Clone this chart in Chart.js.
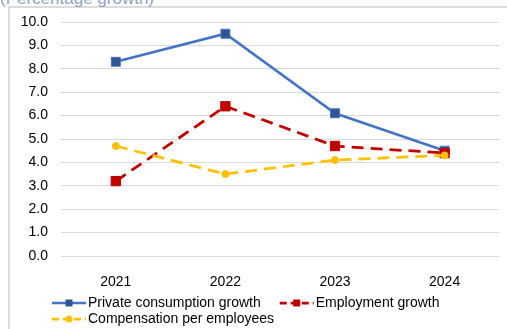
<!DOCTYPE html>
<html>
<head>
<meta charset="utf-8">
<script src="https://cdn.jsdelivr.net/npm/chart.js@4/dist/chart.umd.min.js"></script>
<style>
  html, body { margin: 0; padding: 0; background: #fff; overflow: hidden; }
  #wrap { position: relative; width: 507px; height: 329px; }
  #frame { position: absolute; left: 8px; top: 6px; width: 600px; height: 400px;
           border-left: 2px solid #dcdcdc; border-top: 2px solid #dcdcdc; }
  #subtitle { position: absolute; left: 0; top: -10px; font: 17px/17px "Liberation Sans", Arial, sans-serif;
              color: #8fa3bf; white-space: nowrap; }
  #growthChart { position: absolute; left: 0; top: 0; }
</style>
</head>
<body>
<div id="wrap">
  <div id="frame"></div>
  <div id="subtitle">(Percentage growth)</div>
  <canvas id="growthChart" width="507" height="329"></canvas>
</div>
<script>
const years = ['2021', '2022', '2023', '2024'];
const privateConsumption = [8.3, 9.5, 6.1, 4.5];
const employment = [3.2, 6.4, 4.7, 4.4];
const compensation = [4.7, 3.5, 4.1, 4.3];
const yTicks = [0, 1, 2, 3, 4, 5, 6, 7, 8, 9, 10];

const FONT = '"Liberation Sans", Arial, sans-serif';

// legend drawn Excel-style: line sample with marker, left aligned, wrapping rows
const lineLegend = {
    id: 'lineLegend',
    afterDraw(chart) {
        const ctx = chart.ctx;
        const startX = 52, maxRight = 470, rowH = 16;
        let x = startX, y = 303;
        ctx.save();
        ctx.font = '14px ' + FONT;
        ctx.textBaseline = 'middle';
        chart.data.datasets.forEach(ds => {
            const w = ctx.measureText(ds.label).width;
            if (x > startX && x + 36 + w > maxRight) { x = startX; y += rowH; }
            ctx.strokeStyle = ds.borderColor;
            ctx.lineWidth = ds.borderWidth;
            ctx.setLineDash(ds.borderDash ? [7, 4] : []);
            ctx.beginPath();
            ctx.moveTo(x, y);
            ctx.lineTo(x + 34, y);
            ctx.stroke();
            ctx.setLineDash([]);
            ctx.fillStyle = ds.pointBackgroundColor;
            if (ds.pointStyle === 'rect') {
                ctx.fillRect(x + 13.5, y - 3.5, 7, 7);
            } else {
                ctx.beginPath();
                ctx.arc(x + 17, y, 3.5, 0, Math.PI * 2);
                ctx.fill();
            }
            ctx.fillStyle = '#000';
            ctx.fillText(ds.label, x + 36, y);
            x += 36 + w + 19;
        });
        ctx.restore();
    }
};

new Chart(document.getElementById('growthChart'), {
    type: 'line',
    data: {
        labels: years,
        datasets: [{
            label: 'Private consumption growth',
            data: privateConsumption,
            borderColor: '#4472c4',
            borderWidth: 2.5,
            pointStyle: 'rect',
            pointRadius: 6.3,
            pointBackgroundColor: '#2f5597',
            pointBorderColor: '#4472c4',
            pointBorderWidth: 1,
            order: 3
        }, {
            label: 'Employment growth',
            data: employment,
            borderColor: '#c00000',
            borderWidth: 2.75,
            borderDash: [12, 7],
            pointStyle: 'rect',
            pointRadius: 6.6,
            pointBackgroundColor: '#c00000',
            pointBorderColor: '#c00000',
            pointBorderWidth: 1,
            order: 2
        }, {
            label: 'Compensation per employees',
            data: compensation,
            borderColor: '#ffc000',
            borderWidth: 2.75,
            borderDash: [12, 7],
            pointStyle: 'circle',
            pointRadius: 3.5,
            pointBackgroundColor: '#ffc000',
            pointBorderColor: '#ffc000',
            pointBorderWidth: 1,
            order: 1
        }]
    },
    options: {
        responsive: false,
        animation: false,
        events: [],
        layout: { padding: { left: 0, right: 5, top: 22, bottom: 0 } },
        plugins: {
            legend: { display: false },
            tooltip: { enabled: false }
        },
        scales: {
            x: {
                offset: true,
                grid: { display: false },
                border: { display: false },
                ticks: { color: '#000', font: { family: FONT, size: 14 }, padding: 10 },
                afterFit(scale) { scale.height = 73; }
            },
            y: {
                min: 0,
                max: 10,
                afterBuildTicks(scale) { scale.ticks = yTicks.map(v => ({ value: v })); },
                grid: { color: '#d9d9d9', lineWidth: 1, drawTicks: false },
                border: { display: false },
                ticks: {
                    color: '#000',
                    font: { family: FONT, size: 14 },
                    padding: 13,
                    callback: v => v.toFixed(1)
                },
                afterFit(scale) { scale.width = 61; }
            }
        }
    },
    plugins: [lineLegend]
});
</script>
</body>
</html>
